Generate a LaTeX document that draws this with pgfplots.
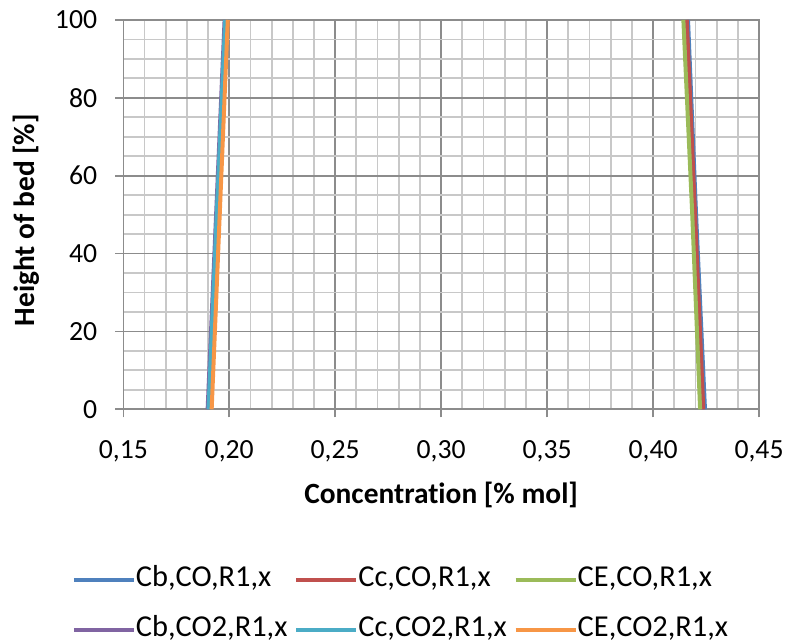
\documentclass[border=0pt]{standalone}
\usepackage{pgfplots}
\pgfplotsset{compat=1.18}
\usepackage{fontspec}
\setmainfont{Carlito}[Ligatures=NoCommon]

\definecolor{sBlue}{HTML}{4F81BD}
\definecolor{sRed}{HTML}{C0504D}
\definecolor{sGreen}{HTML}{9BBB59}
\definecolor{sPurple}{HTML}{8064A2}
\definecolor{sTeal}{HTML}{4BACC6}
\definecolor{sOrange}{HTML}{F79646}
\definecolor{gridmajor}{HTML}{8C8C8C}
\definecolor{gridminor}{HTML}{C8C8C8}

\begin{document}
\begin{tikzpicture}[x=1bp,y=1bp]
\path[use as bounding box] (0,0) rectangle (789,644);
\begin{axis}[
  at={(123.3bp,234.7bp)}, anchor=south west,
  scale only axis, width=635.7bp, height=389.3bp,
  xmin=0.15, xmax=0.45, ymin=0, ymax=100,
  xtick={0.15,0.20,0.25,0.30,0.35,0.40,0.45},
  xticklabels={{0,15},{0,20},{0,25},{0,30},{0,35},{0,40},{0,45}},
  ytick={0,20,40,60,80,100},
  minor x tick num=4, minor y tick num=3,
  grid=both,
  major grid style={draw=gridmajor, line width=1.6bp},
  minor grid style={draw=gridminor, line width=1.8bp},
  axis line style={draw=gridmajor, line width=1.6bp},
  tick pos=left, tick align=outside,
  major tick length=8bp, minor tick length=0pt,
  tick style={draw=gridmajor, line width=1.6bp},
  /pgf/number format/assume math mode=true,
  ticklabel style={font=\fontsize{27.8}{32}\selectfont, text=black},
  xticklabel style={anchor=north, inner sep=0pt, yshift=-23bp},
  yticklabel style={anchor=east, inner sep=0pt, xshift=-18bp},
  xlabel={Concentration [\% mol]},
  ylabel={Height of bed [\%]},
  label style={font=\bfseries\fontsize{29.5}{34}\selectfont, text=black, inner sep=0pt},
  xlabel style={at={(axis description cs:0.5,-0.220)}, anchor=center},
  ylabel style={at={(axis description cs:-0.153,0.486)}, anchor=center},
  legend columns=3,
  legend cell align=left,
  legend image code/.code={\draw[#1, line width=4bp] (0bp,0bp) -- (60bp,0bp);},
  legend style={
    at={(axis description cs:-0.0807,-0.4043)}, anchor=north west,
    draw=none, fill=none, inner sep=0pt, outer sep=0pt,
    font=\fontsize{30.5}{36}\selectfont,
    nodes={inner xsep=0pt, inner ysep=0pt, text height=20bp, text depth=7bp},
    row sep=23bp,
    /tikz/every even column/.append style={column sep=7bp},
  },
  every axis plot/.append style={line width=4bp, no markers},
]
\addplot[sBlue] coordinates {(0.4245,0) (0.4203,50) (0.4165,100)};
\addlegendentry{Cb,CO,R1,x}
\addplot[sRed] coordinates {(0.4237,0) (0.4198,50) (0.4159,100)};
\addlegendentry{Cc,CO,R1,x}
\addplot[sGreen] coordinates {(0.4222,0) (0.4185,50) (0.4143,100)};
\addlegendentry{CE,CO,R1,x}
\addplot[sPurple] coordinates {(0.1898,0) (0.1938,50) (0.1978,100)};
\addlegendentry{Cb,CO2,R1,x}
\addplot[sTeal] coordinates {(0.1902,0) (0.1941,50) (0.1981,100)};
\addlegendentry{Cc,CO2,R1,x}
\addplot[sOrange] coordinates {(0.1917,0) (0.1955,50) (0.1993,100)};
\addlegendentry{CE,CO2,R1,x}
\end{axis}
\end{tikzpicture}
\end{document}
